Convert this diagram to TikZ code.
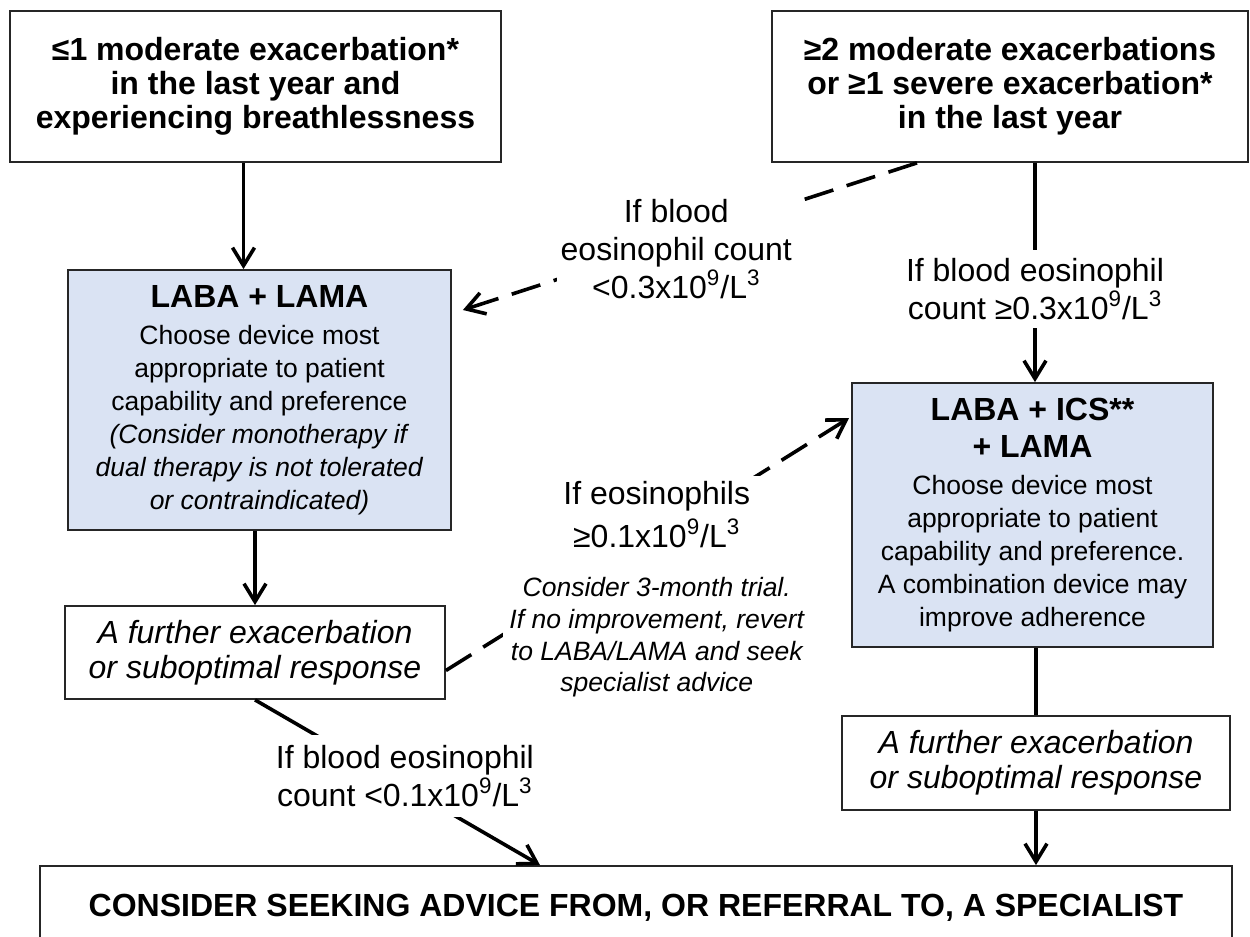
\documentclass[tikz,border=0pt]{standalone}
\usepackage{fontspec}
\setmainfont{Liberation Sans}
\usetikzlibrary{arrows.meta}
\definecolor{boxblue}{RGB}{218,227,243}
\newcommand\ttl{\fontsize{16}{17}\selectfont\bfseries}
\newcommand\eos{x10\textsuperscript{9}/L\textsuperscript{3}}

\begin{document}
\begin{tikzpicture}[x=0.5pt, y=-0.5pt,
  box/.style={draw=black!85, line width=0.9pt, align=center, inner sep=0pt},
  drugbox/.style={box, fill=boxblue, font=\fontsize{13.25}{16.5}\selectfont},
  furtherbox/.style={box, font=\fontsize{16}{17.5}\selectfont\itshape},
  conn/.style={line width=1.8pt},
  tip/.style={conn, -{Straight Barb[length=9pt,width=11pt]}},
  maybe/.style={conn, dash pattern=on 15pt off 7pt},
  lbl/.style={fill=white, align=center, inner sep=2pt, font=\fontsize{16}{19}\selectfont}]
\useasboundingbox (0,0) rectangle (1250,937);

\node[box, font=\ttl, minimum width=245.5pt, minimum height=75.5pt] (few) at (255.5,86.5) {≤1 moderate exacerbation*\\in the last year and\\experiencing breathlessness};
\node[box, font=\ttl, minimum width=238pt, minimum height=75.5pt] (many) at (1010,86.5) {≥2 moderate exacerbations\\or ≥1 severe exacerbation*\\in the last year};
\node[drugbox, minimum width=191.5pt, minimum height=130pt] (laba) at (259.5,400) {{\ttl LABA + LAMA}\\[2pt]Choose device most\\appropriate to patient\\capability and preference\\\textit{(Consider monotherapy if}\\\textit{dual therapy is not tolerated}\\\textit{or contraindicated)}};
\node[drugbox, minimum width=180.5pt, minimum height=132pt] (triple) at (1032.5,515) {{\ttl LABA + ICS**}\\[2pt]{\ttl + LAMA}\\[2pt]Choose device most\\appropriate to patient\\capability and preference.\\A combination device may\\improve adherence};
\node[furtherbox, minimum width=190pt, minimum height=46.5pt] (lfur) at (255,652.5) {A further exacerbation\\or suboptimal response};
\node[furtherbox, minimum width=194pt, minimum height=47pt] (rfur) at (1036,763) {A further exacerbation\\or suboptimal response};
\node[box, font=\ttl, minimum width=596pt, minimum height=42pt] (adv) at (636,908) {CONSIDER SEEKING ADVICE FROM, OR REFERRAL TO, A SPECIALIST};

\draw [tip]([xshift=-6pt]few.south) -- ([xshift=-6pt]few.south |- laba.north);
\draw [tip]([xshift=12.5pt]many.south) -- ([xshift=12.5pt]many.south |- triple.north) node[lbl, pos=.575, inner sep=4pt]{If blood eosinophil\\count ≥0.3\eos};
\draw [maybe, -{Straight Barb[length=9pt,width=11pt]}]([xshift=-46.5pt]many.south) -- ([xshift=5.5pt, yshift=45pt]laba.east) node[lbl, pos=.53, yshift=-4pt]{If blood\\eosinophil count\\<0.3\eos};
\draw [tip](laba.south -| lfur.north) -- (lfur.north);
\draw [maybe, -{Straight Barb[length=9pt,width=11pt]}]([yshift=-9pt]lfur.east) -- ([xshift=-1pt, yshift=48.5pt]triple.west) node[lbl, pos=.523, yshift=-25.5pt, inner sep=3pt, font=\fontsize{13.25}{15.8}\selectfont\itshape]{{\fontsize{16}{19}\selectfont\upshape If eosinophils}\\[2.7pt]{\fontsize{16}{19}\selectfont\upshape ≥0.1\eos}\\[9pt]Consider 3-month trial.\\If no improvement, revert\\to LABA/LAMA and seek\\specialist advice};
\draw [tip](lfur.south) -- ([xshift=-48pt]adv.north) node[lbl, pos=.526, yshift=5.5pt, inner sep=5pt]{If blood eosinophil\\count <0.1\eos};
\draw [conn](triple.south -| rfur.north) -- (rfur.north);
\draw [tip](rfur.south) -- (rfur.south |- adv.north);
\end{tikzpicture}
\end{document}
